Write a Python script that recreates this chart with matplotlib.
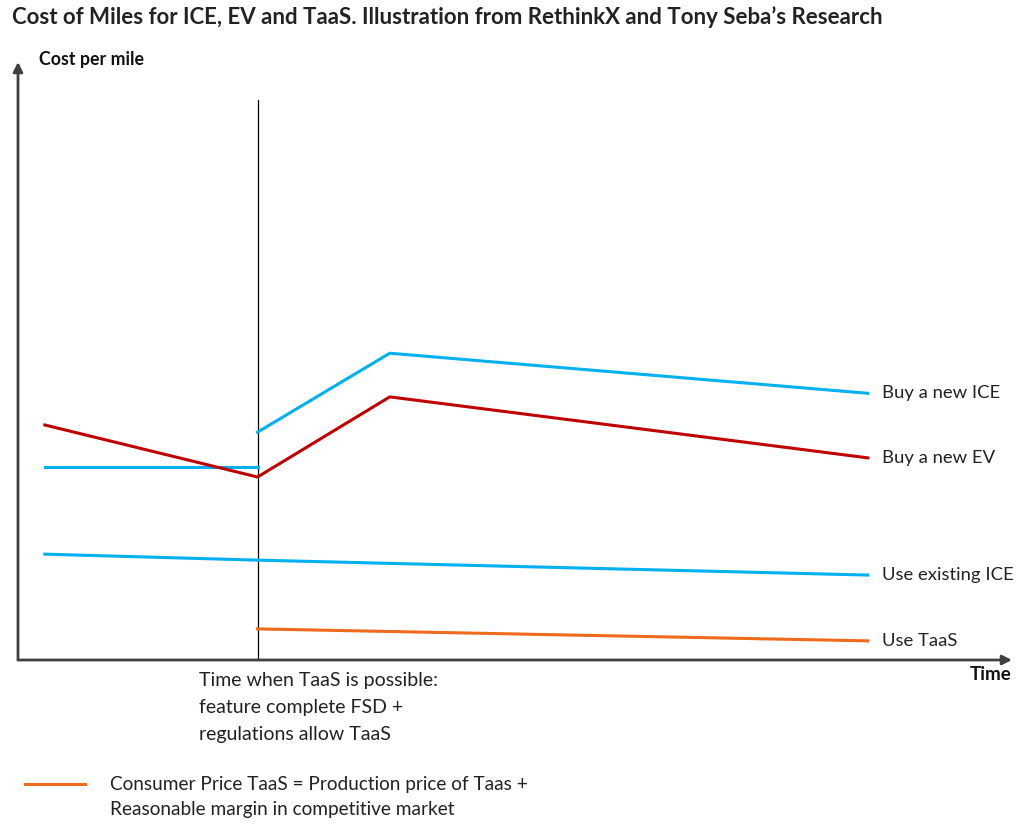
import matplotlib.pyplot as plt

plt.rcParams['font.family'] = ['Lato', 'DejaVu Sans']

# time positions (arbitrary units, 0-100 along the time axis)
t_start = 2.7
t_taas = 24.1
t_peak = 37.4
t_end = 85.5

# cost per mile (arbitrary units, 0-100 along the cost axis)
new_ice_before_t = [t_start, t_taas]
new_ice_before = [32.3, 32.3]
new_ice_after_t = [t_taas, t_peak, t_end]
new_ice_after = [38.1, 51.3, 44.6]

new_ev_t = [t_start, t_taas, t_peak, t_end]
new_ev = [39.3, 30.6, 44.0, 33.8]

existing_ice_t = [t_start, t_taas, t_end]
existing_ice = [17.7, 16.7, 14.2]

taas_t = [t_taas, t_end]
taas = [5.2, 3.2]

taas_line_top = 93.6

labels = ['Buy a new ICE', 'Buy a new EV', 'Use existing ICE', 'Use TaaS']
label_y = [new_ice_after[-1], new_ev[-1], existing_ice[-1], taas[-1]]

blue = '#00B0F0'
red = '#C00000'
orange = '#EE6A1C'
txt = '#222222'

fig = plt.figure(figsize=(10.24, 8.4), dpi=100)
ax = fig.add_axes([18 / 1024, 180 / 840, 994 / 1024, 598 / 840])
ax.set_xlim(0, 100)
ax.set_ylim(0, 100)
for s in ax.spines.values():
    s.set_visible(False)
ax.set_xticks([])
ax.set_yticks([])

# axes with arrows
axis_col = '#404040'
ax.annotate('', xy=(1.0, 0), xytext=(0, 0), xycoords='axes fraction',
            arrowprops=dict(arrowstyle='-|>', color=axis_col, lw=2, mutation_scale=14,
                            shrinkA=0, shrinkB=0))
ax.annotate('', xy=(0, 1.0), xytext=(0, 0), xycoords='axes fraction',
            arrowprops=dict(arrowstyle='-|>', color=axis_col, lw=2, mutation_scale=14,
                            shrinkA=0, shrinkB=0))

# time when TaaS becomes possible
ax.plot([t_taas, t_taas], [0, taas_line_top], color='black', lw=0.9)

ax.plot(new_ice_before_t, new_ice_before, color=blue, lw=2.2)
ax.plot(new_ice_after_t, new_ice_after, color=blue, lw=2.2)
ax.plot(new_ev_t, new_ev, color=red, lw=2.2)
ax.plot(existing_ice_t, existing_ice, color=blue, lw=2.2)
ax.plot(taas_t, taas, color=orange, lw=2.2)

for lab, y in zip(labels, label_y):
    ax.text(t_end + 1.4, y, lab, fontsize=13.3, color=txt, va='center', ha='left')

fig.text(12 / 1024, 1 - 17 / 840,
         'Cost of Miles for ICE, EV and TaaS. Illustration from RethinkX and Tony Seba\u2019s Research',
         fontsize=16, fontweight='bold', color=txt, va='center', ha='left')
fig.text(39 / 1024, 1 - 60 / 840, 'Cost per mile', fontsize=12.8, fontweight='bold',
         color='#111111', va='center', ha='left')
fig.text(1011 / 1024, 1 - 675 / 840, 'Time', fontsize=13.5, fontweight='bold',
         color='#111111', va='center', ha='right')

fig.text(199 / 1024, 1 - 672 / 840,
         'Time when TaaS is possible:\nfeature complete FSD +\nregulations allow TaaS',
         fontsize=14, color=txt, va='top', ha='left', linespacing=1.72)

fig.lines.append(plt.Line2D([25 / 1024, 85 / 1024], [1 - 784 / 840, 1 - 784 / 840],
                            transform=fig.transFigure, color=orange, lw=2.2))
fig.text(110 / 1024, 1 - 776 / 840,
         'Consumer Price TaaS = Production price of Taas +\nReasonable margin in competitive market',
         fontsize=13.7, color=txt, va='top', ha='left', linespacing=1.55)

fig.savefig('out.png', dpi=100, facecolor='white')
